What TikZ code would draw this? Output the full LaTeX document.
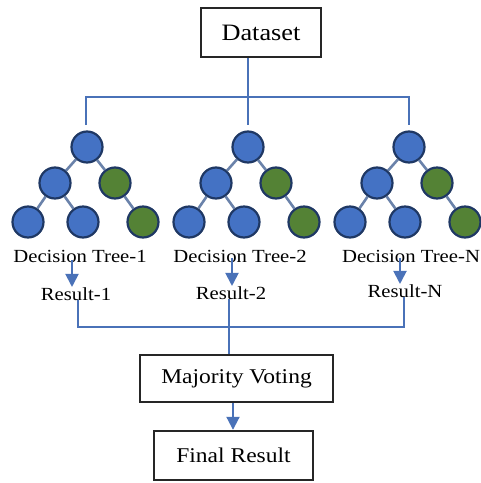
\documentclass[tikz,border=0pt]{standalone}
\usepackage{fontspec}
\setmainfont{Liberation Serif}
\usetikzlibrary{arrows.meta}
\definecolor{nodeblue}{HTML}{4472C4}
\definecolor{nodegreen}{HTML}{548235}
\definecolor{rimblue}{HTML}{1F3864}
\definecolor{linkblue}{HTML}{4A72B8}
\definecolor{edgegrey}{HTML}{6A82AA}
\newcommand\hs[1]{\scalebox{1.12}[1]{#1}}
\begin{document}
\begin{tikzpicture}[x=1pt,y=-1pt,
 box/.style={draw=black!85, line width=2.4pt, fill=white, inner sep=0pt},
 bn/.style={circle, draw=rimblue, line width=2.2pt, fill=nodeblue, minimum size=31pt, inner sep=0pt},
 gn/.style={bn, fill=nodegreen},
 tedge/.style={draw=edgegrey, line width=2.6pt},
 link/.style={draw=linkblue, line width=2pt},
 arr/.style={link, -{Triangle[length=13pt,width=13pt]}},
 lbl/.style={font=\fontsize{18.5}{20}\selectfont, inner sep=0pt, anchor=base},
]
\useasboundingbox (0,0) rectangle (481,483);

% Dataset box and distribution lines
\node[box, minimum width=120pt, minimum height=49pt, font=\fontsize{23.5}{25}\selectfont] (ds) at (261,32.5) {\hs{Dataset}\hspace{14pt}};
\coordinate (hub) at (248,97);
\coordinate (d1) at (86,125);
\coordinate (d2) at (248,125);
\coordinate (d3) at (409,125);
\draw[link] (d1) -- (d1 |- hub) -- (d3 |- hub) -- (d3);
\draw[link] (ds.south -| hub) -- (d2);

% Trees
\foreach \i/\x in {1/87,2/248,3/409} {
  \node[bn] (r\i) at (\x,147) {};
  \node[bn] (a\i) at (\x-32,183) {};
  \node[gn] (b\i) at (\x+28,183) {};
  \node[bn] (c\i) at (\x-59,222) {};
  \node[bn] (e\i) at (\x-4,222) {};
  \node[gn] (g\i) at (\x+56,222) {};
  \draw[tedge] (r\i) -- (a\i) (r\i) -- (b\i) (a\i) -- (c\i) (a\i) -- (e\i) (b\i) -- (g\i);
}

% Tree labels
\node[lbl] (dt1) at (80,262) {\hs{Decision Tree-1}};
\node[lbl] (dt2) at (240,262) {\hs{Decision Tree-2}};
\node[lbl] (dt3) at (411,262) {\hs{Decision Tree-N}};

% Results
\node[lbl] (res1) at (76,300) {\hs{Result-1}};
\node[lbl] (res2) at (231,299) {\hs{Result-2}};
\node[lbl] (res3) at (405,297) {\hs{Result-N}};

% Arrows tree -> result
\coordinate (k1) at (72,260);
\coordinate (k2) at (232,258);
\coordinate (k3) at (400,258);
\draw[arr] (k1) -- (res1.north -| k1);
\draw[arr] (k2) -- (res2.north -| k2);
\draw[arr] (k3) -- (res3.north -| k3);

% Majority voting
\node[box, minimum width=193pt, minimum height=47pt, font=\fontsize{21}{23}\selectfont] (mv) at (236.5,378.5) {\hs{Majority Voting}};
\node[box, minimum width=159pt, minimum height=49pt, font=\fontsize{21}{23}\selectfont] (fr) at (233.5,455.5) {\hs{Final Result}};

\coordinate (m1) at (78,327);
\coordinate (m2) at (229,327);
\coordinate (m3) at (404,327);
\draw[link] (res1.south -| m1) -- (m1) -- (m3) -- (res3.south -| m3);
\draw[link] (res2.south -| m2) -- (m2) -- (mv.north -| m2);

\coordinate (f) at (233,410);
\draw[arr] (mv.south -| f) -- (fr.north -| f);
\end{tikzpicture}
\end{document}
